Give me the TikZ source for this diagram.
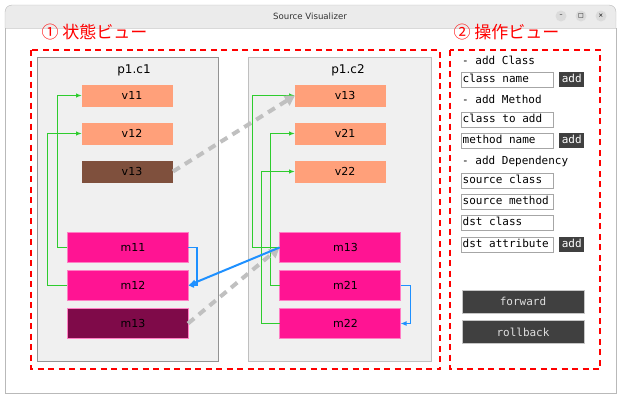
\documentclass[tikz,border=0pt]{standalone}
\usepackage{fontspec}
\setmainfont{DejaVu Sans}
\setmonofont{DejaVu Sans Mono}
\newfontfamily\jpfont{Noto Sans CJK JP}
\usetikzlibrary{arrows.meta}
\definecolor{attrcol}{HTML}{FFA07A}
\definecolor{attrold}{HTML}{7F503D}
\definecolor{methcol}{HTML}{FF1493}
\definecolor{methold}{HTML}{7F0A49}
\definecolor{panelbg}{HTML}{F0F0F0}
\definecolor{titlebg}{HTML}{EBEBEB}
\definecolor{depgreen}{HTML}{2ECC2E}
\definecolor{callblue}{HTML}{1E90FF}
\definecolor{movegray}{HTML}{C0C0C0}
\definecolor{btndark}{HTML}{404040}
\tikzset{
  panel/.style={draw=#1, fill=panelbg, line width=0.8pt},
  attr/.style={fill=attrcol, minimum width=91, minimum height=22, inner sep=0pt,
    outer sep=0pt, font=\fontsize{11}{11}\selectfont, execute at begin node={\hspace{9pt}}},
  meth/.style={fill=methcol, draw=methcol!55!white, line width=0.6pt, minimum width=121,
    minimum height=30, inner sep=0pt, outer sep=0pt, font=\fontsize{11}{11}\selectfont,
    execute at begin node={\hspace{11pt}}},
  ctitle/.style={font=\fontsize{12}{12}\selectfont},
  dep/.style={color=depgreen, line width=1.2pt, -{Latex[length=6pt,width=4.5pt]}},
  call/.style={color=callblue, line width=1.2pt, -{Latex[length=6pt,width=5pt]}},
  move/.style={draw=movegray, line width=4pt, dash pattern=on 8pt off 6pt,
    -{Triangle[length=10pt,width=11pt]}},
  view/.style={draw=red, line width=1.6pt, dash pattern=on 6pt off 4.5pt},
  viewlbl/.style={anchor=west, text=red, font=\jpfont\fontsize{17}{17}\selectfont},
  oplbl/.style={anchor=west, inner sep=0pt, text height=8pt, text depth=2.5pt,
    font=\ttfamily\fontsize{11}{11}\selectfont},
  entry/.style={draw=gray!70, fill=white, anchor=west, minimum height=15,
    inner xsep=1.5pt, inner ysep=0pt, text height=8pt, text depth=2.5pt,
    font=\ttfamily\fontsize{11}{11}\selectfont,
    execute at begin node={\hbox to 89pt\bgroup}, execute at end node={\hfil\egroup}},
  addbtn/.style={fill=btndark, text=white, minimum width=25, minimum height=15,
    inner sep=0pt, anchor=west, text height=8pt, text depth=2.5pt,
    font=\ttfamily\fontsize{11}{11}\selectfont},
  cmdbtn/.style={fill=btndark, draw=gray!45, text=gray!25, minimum width=122,
    minimum height=23, inner sep=0pt, font=\ttfamily\fontsize{11}{11}\selectfont},
  winbtn/.style={circle, fill=gray!28, minimum size=11, inner sep=0pt,
    font=\fontsize{6}{6}\selectfont},
}
\begin{document}
\begin{tikzpicture}[x=1pt,y=-1pt]
  \useasboundingbox (0,0) rectangle (621,400);
  % window
  \fill[white] (5,5) rectangle (616,393);
  \fill[titlebg, rounded corners=7] (5,5) rectangle (616,28);
  \fill[titlebg] (5,18) rectangle (616,28);
  \draw[gray!30] (5,28) -- (616,28);
  \draw[gray!55] (5,28) -- (5,393) -- (616,393) -- (616,28);
  \draw[gray!55, rounded corners=7] (5,28) -- (5,5) -- (616,5) -- (616,28);
  \node[font=\fontsize{8.6}{8.6}\selectfont, text=black!80] (wintitle) at (310,16) {Source Visualizer};
  \node[winbtn] (minbtn) at (561,16) {–};
  \node[winbtn] (maxbtn) at (581,16) {□};
  \node[winbtn] (closebtn) at (601,16) {×};

  % views
  \node[viewlbl] (statelbl) at (38,32) {① 状態ビュー};
  \node[viewlbl] (oplbl) at (450,32) {② 操作ビュー};
  \draw[view] (31,50) rectangle (440,369);
  \draw[view] (450,50) rectangle (600,369);

  % class p1.c1
  \draw[panel=gray!85] (37,57) rectangle (218,361);
  \node[ctitle] (c1title) at (134,70) {p1.c1};
  \node[attr] (v11) at (127.5,95.5) {v11};
  \node[attr] (v12) at (127.5,133.5) {v12};
  \node[attr, fill=attrold] (v13) at (127.5,171.5) {v13};
  \node[meth] (m11) at (127.5,247.5) {m11};
  \node[meth] (m12) at (127.5,285.5) {m12};
  \node[meth, fill=methold] (m13) at (127.5,323.5) {m13};

  % class p1.c2
  \draw[panel=gray!50] (248,57) rectangle (431,361);
  \node[ctitle] (c2title) at (348,70) {p1.c2};
  \node[attr] (c2v13) at (340.5,95.5) {v13};
  \node[attr] (v21) at (340.5,133.5) {v21};
  \node[attr] (v22) at (340.5,171.5) {v22};
  \node[meth] (c2m13) at (340,247.5) {m13};
  \node[meth] (m21) at (340,285.5) {m21};
  \node[meth] (m22) at (340,323.5) {m22};

  % dependencies
  \draw[dep] (m11.west) -- ++(-9.5,0) |- (v11.west);
  \draw[dep] (m12.west) -- ++(-19.5,0) |- (v12.west);
  \draw[dep] (c2m13.west) -- ++(-27,0) |- (c2v13.west);
  \draw[dep] (m21.west) -- ++(-9,0) |- (v21.west);
  \draw[dep] (m22.west) -- ++(-18,0) |- (v22.west);
  \draw[call] (m11.east) -- ++(9,0) |- (m12.east);
  \draw[call] (m21.east) -- ++(10,0) |- (m22.east);
  \draw[move] (v13.east) -- (c2v13.west);
  \draw[move] (m13.east) -- (c2m13.west);
  \draw[call, line width=2pt, -{Latex[length=8pt,width=6pt]}] (c2m13.west) -- (m12.east);

  % operations
  \node[oplbl] (lblclass) at (462,61.5) {- add Class};
  \node[entry] (eclass) at (461,79.5) {class name};
  \node[addbtn] (addclass) at (559,79.5) {add};
  \node[oplbl] (lblmeth) at (462,101) {- add Method};
  \node[entry] (emclass) at (461,119.5) {class to add};
  \node[entry] (emname) at (461,140.5) {method name};
  \node[addbtn] (addmeth) at (559,140.5) {add};
  \node[oplbl] (lbldep) at (462,161.5) {- add Dependency};
  \node[entry] (esrcc) at (461,180.5) {source class};
  \node[entry] (esrcm) at (461,201.5) {source method};
  \node[entry] (edstc) at (461,222.5) {dst class};
  \node[entry] (edsta) at (461,244.5) {dst attribute};
  \node[addbtn] (adddep) at (559,244.5) {add};
  \node[cmdbtn] (fwd) at (523,301.5) {forward};
  \node[cmdbtn] (back) at (523,332) {rollback};
\end{tikzpicture}
\end{document}
